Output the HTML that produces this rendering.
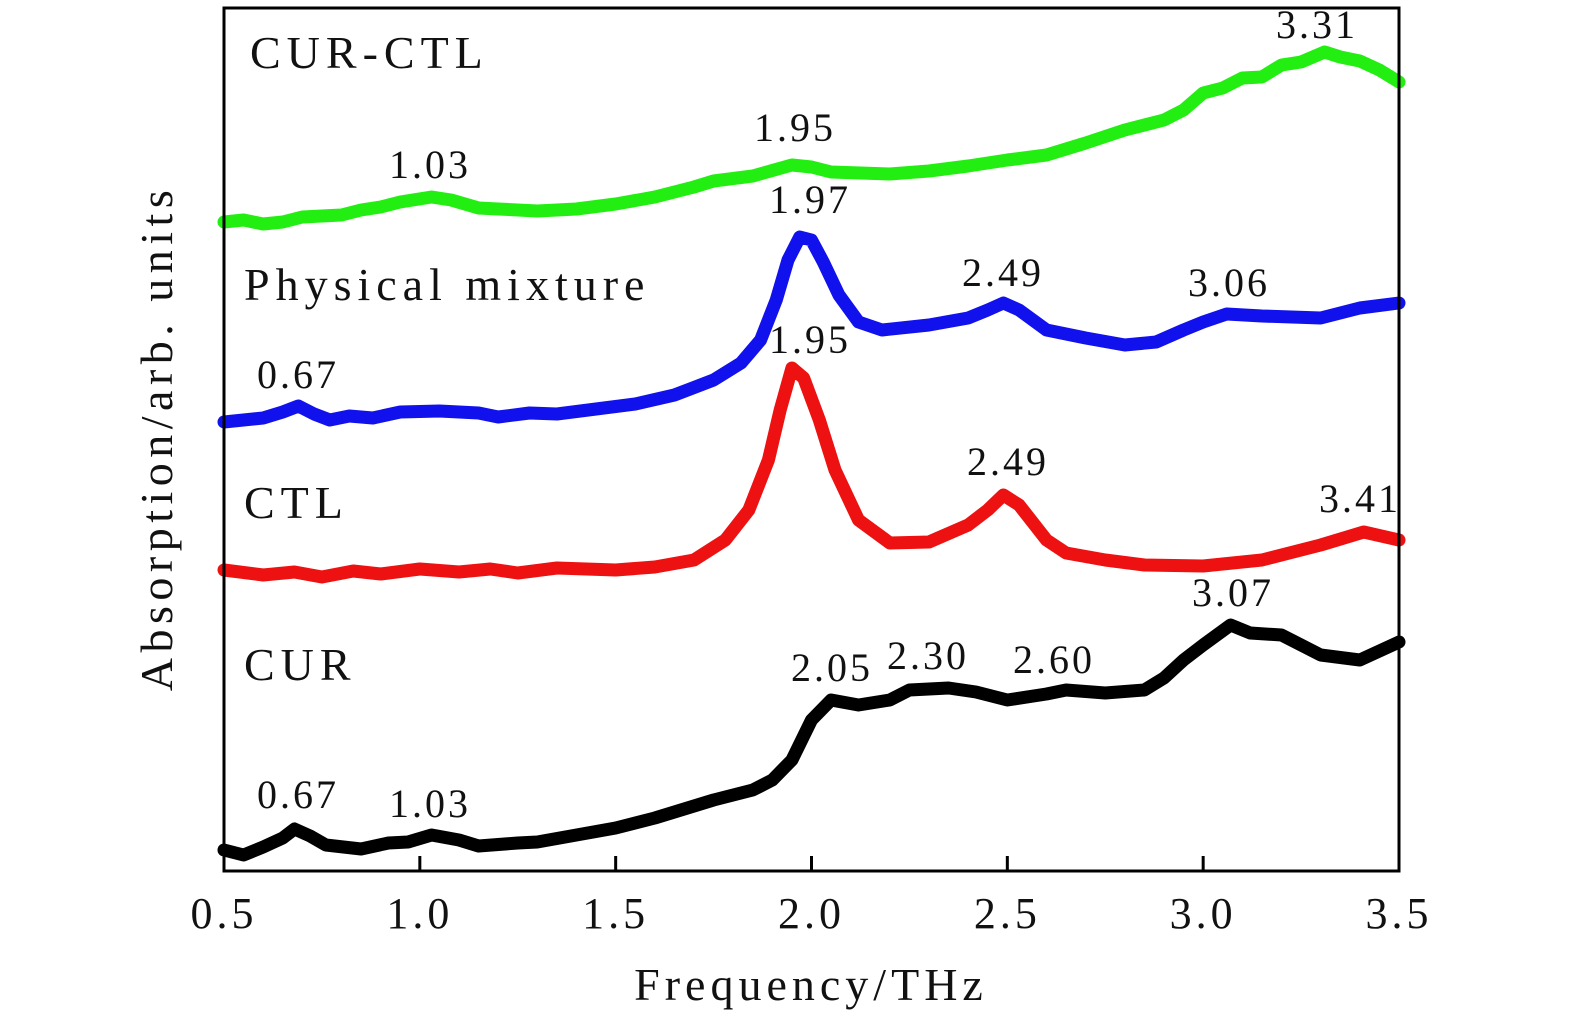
<!DOCTYPE html>
<html><head><meta charset="utf-8"><style>
html,body{margin:0;padding:0;background:#fff;}
svg{display:block;}
text{font-family:"Liberation Serif",serif;fill:#111;}
</style></head><body>
<svg id="chart" width="1575" height="1024" viewBox="0 0 1575 1024">
<g id="series"></g>
<rect x="224" y="8" width="1175" height="863" fill="none" stroke="#000" stroke-width="3"/>
<g id="ticks"></g>
<text x="811" y="1000" font-size="46" letter-spacing="5" text-anchor="middle">Frequency/THz</text>
<text transform="translate(172,438) rotate(-90)" font-size="46" letter-spacing="5.5" text-anchor="middle">Absorption/arb. units</text>
<g font-size="46" letter-spacing="6">
<text x="250" y="68">CUR-CTL</text>
<text x="244" y="300">Physical mixture</text>
<text x="244" y="518">CTL</text>
<text x="244" y="680">CUR</text>
</g>
<g font-size="40" letter-spacing="3" text-anchor="middle">
<text x="430" y="178">1.03</text>
<text x="795" y="141">1.95</text>
<text x="1317" y="38">3.31</text>
<text x="810" y="213">1.97</text>
<text x="1003" y="286">2.49</text>
<text x="1229" y="296">3.06</text>
<text x="298" y="388">0.67</text>
<text x="810" y="353">1.95</text>
<text x="1008" y="475">2.49</text>
<text x="1360" y="512">3.41</text>
<text x="1233" y="606">3.07</text>
<text x="832" y="681">2.05</text>
<text x="928" y="669">2.30</text>
<text x="1054" y="673">2.60</text>
<text x="298" y="808">0.67</text>
<text x="430" y="817">1.03</text>
</g>
</svg>
<script>
const xTicks=[0.5,1.0,1.5,2.0,2.5,3.0,3.5];
const xTickLabels=["0.5","1.0","1.5","2.0","2.5","3.0","3.5"];
const greenF=[0.5,0.55,0.6,0.65,0.7,0.8,0.85,0.9,0.95,1.03,1.08,1.15,1.2,1.3,1.4,1.5,1.6,1.7,1.75,1.85,1.95,2.0,2.05,2.2,2.3,2.4,2.5,2.6,2.7,2.8,2.9,2.95,3.0,3.05,3.1,3.15,3.2,3.25,3.31,3.35,3.4,3.45,3.5];
const greenV=[647,649,645,647,652,654,659,662,667,672,669,661,660,658,660,665,672,682,688,693,704,702,697,695,698,703,709,714,726,739,749,759,776,781,791,792,804,807,817,812,808,799,787];
const blueF=[0.5,0.6,0.65,0.69,0.73,0.77,0.82,0.88,0.95,1.05,1.15,1.2,1.28,1.35,1.45,1.55,1.65,1.75,1.82,1.87,1.91,1.94,1.97,2.0,2.03,2.07,2.12,2.18,2.3,2.4,2.45,2.49,2.53,2.6,2.7,2.8,2.88,2.95,3.0,3.06,3.15,3.3,3.4,3.5];
const blueV=[447,451,457,463,455,449,453,451,457,458,456,452,456,455,460,465,474,489,506,529,569,609,632,629,607,574,547,539,544,551,559,566,559,539,531,524,527,539,547,555,553,551,561,566];
const redF=[0.5,0.6,0.68,0.75,0.83,0.9,1.0,1.1,1.18,1.25,1.35,1.5,1.6,1.7,1.78,1.84,1.89,1.92,1.95,1.98,2.02,2.06,2.12,2.2,2.3,2.4,2.45,2.49,2.53,2.6,2.65,2.75,2.85,3.0,3.15,3.3,3.41,3.5];
const redV=[299,294,297,292,298,295,300,297,300,296,301,299,302,309,329,359,409,459,501,491,449,399,349,326,327,344,359,374,364,329,316,309,304,303,309,324,337,329];
const blackF=[0.5,0.55,0.6,0.65,0.68,0.72,0.76,0.85,0.92,0.97,1.03,1.1,1.15,1.25,1.3,1.4,1.5,1.6,1.7,1.75,1.85,1.9,1.95,2.0,2.05,2.12,2.2,2.25,2.35,2.42,2.5,2.6,2.65,2.75,2.85,2.9,2.95,3.0,3.07,3.12,3.2,3.3,3.4,3.5];
const blackV=[19,14,22,31,40,33,24,20,26,27,34,29,23,26,27,34,41,51,63,69,79,89,109,149,169,164,169,179,181,177,169,175,179,176,179,191,209,224,244,236,234,214,209,227];

const NS="http://www.w3.org/2000/svg";
function xs(f){return 224+(f-0.5)*(1175/3);}
function ys(v){return 869-v;}
const g=document.getElementById('series');
function draw(F,V,color,name){
  const p=document.createElementNS(NS,'polyline');
  p.setAttribute('points',F.map((f,i)=>xs(f)+','+ys(V[i])).join(' '));
  p.setAttribute('fill','none');p.setAttribute('stroke',color);
  p.setAttribute('stroke-width','13');p.setAttribute('stroke-linejoin','round');p.setAttribute('stroke-linecap','round');
  
  
  g.appendChild(p);
}
draw(greenF,greenV,'#22ee11','series-cur-ctl');
draw(blueF,blueV,'#1111ee','series-physical-mixture');
draw(redF,redV,'#ee1111','series-ctl');
draw(blackF,blackV,'#000000','series-cur');
const t=document.getElementById('ticks');
xTicks.forEach((f,i)=>{
  const l=document.createElementNS(NS,'line');
  l.setAttribute('x1',xs(f));l.setAttribute('x2',xs(f));l.setAttribute('y1',871);l.setAttribute('y2',856);
  l.setAttribute('stroke','#000');l.setAttribute('stroke-width','3');
  
  
  t.appendChild(l);
  const tx=document.createElementNS(NS,'text');
  tx.setAttribute('x',xs(f));tx.setAttribute('y',928);tx.setAttribute('font-size','44');tx.setAttribute('letter-spacing','4');tx.setAttribute('text-anchor','middle');
  tx.textContent=xTickLabels[i];
  
  
  t.appendChild(tx);
});
</script>
</body></html>
